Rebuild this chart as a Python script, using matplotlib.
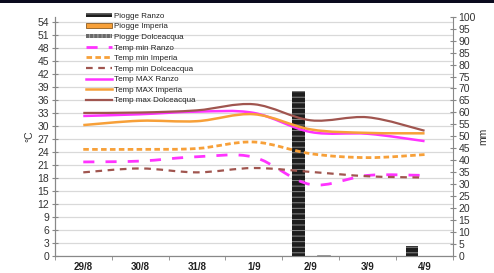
import matplotlib
matplotlib.use("Agg")
import matplotlib.pyplot as plt
from matplotlib.path import Path
from matplotlib.patches import PathPatch, Patch, Rectangle
from matplotlib.lines import Line2D
import numpy as np

plt.rcParams['font.family'] = ['Liberation Sans', 'DejaVu Sans']
plt.rcParams['hatch.linewidth'] = 0.7

days = ['29/8', '30/8', '31/8', '1/9', '2/9', '3/9', '4/9']

rain_ranzo = [0, 0, 0, 0, 69, 0, 4]
rain_imperia = [0, 0, 0, 0, 0, 0, 0]
rain_dolce = [0, 0, 0, 0, 0.5, 0, 0]

tmin_ranzo = [21.7, 21.9, 22.9, 22.8, 16.5, 18.6, 18.6]
tmin_imperia = [24.6, 24.6, 24.8, 26.3, 23.6, 22.7, 23.4]
tmin_dolce = [19.3, 20.2, 19.3, 20.3, 19.4, 18.4, 18.1]
tmax_ranzo = [32.3, 32.7, 33.3, 33.0, 28.6, 28.2, 26.5]
tmax_imperia = [30.2, 31.2, 31.1, 32.7, 29.2, 28.4, 28.3]
tmax_dolce = [33.0, 33.1, 33.6, 35.0, 31.3, 32.0, 28.9]

MAG = '#ff33ff'
ORA = '#f7a039'
BRO = '#a0554f'


def smooth_path(xs, ys):
    # Excel-like smoothed line: cubic Bezier segments through the points
    pts = np.column_stack([xs, ys]).astype(float)
    n = len(pts)
    verts = [pts[0]]
    codes = [Path.MOVETO]
    for i in range(n - 1):
        p0 = pts[i - 1] if i > 0 else pts[i]
        p1 = pts[i]
        p2 = pts[i + 1]
        p3 = pts[i + 2] if i + 2 < n else pts[i + 1]
        verts += [p1 + (p2 - p0) / 6, p2 - (p3 - p1) / 6, p2]
        codes += [Path.CURVE4] * 3
    return Path(verts, codes)


fig = plt.figure(figsize=(4.94, 2.73), dpi=100)
ax = fig.add_axes([0.111, 0.062, 0.806, 0.877])
ax2 = ax.twinx()

x = np.arange(len(days))
w = 0.22
ax2.bar(x - w, rain_ranzo, w, color='#1e1e1e', edgecolor='#8a8a8a', linewidth=0, hatch='---')
ax2.bar(x, rain_imperia, w, color=ORA, edgecolor='#8a5a20', linewidth=0.5)
ax2.bar(x + w, rain_dolce, w, color='#8c8c8c', edgecolor='#8c8c8c', linewidth=0.5)

series = [
    (tmin_ranzo, MAG, (0, (4, 4)), 2.0),
    (tmin_imperia, ORA, (0, (2, 1.2)), 2.0),
    (tmin_dolce, BRO, (0, (3, 2.5)), 1.6),
    (tmax_ranzo, MAG, '-', 1.8),
    (tmax_imperia, ORA, '-', 1.8),
    (tmax_dolce, BRO, '-', 1.6),
]
for ys, c, ls, lw in series:
    ax2.add_patch(PathPatch(smooth_path(x, np.array(ys) * 100 / 55.2),
                            facecolor='none', edgecolor=c, linestyle=ls,
                            linewidth=lw, capstyle='butt', zorder=3))

ax.set_xlim(-0.5, 6.5)
ax2.set_xlim(-0.5, 6.5)
ax.set_ylim(0, 55.2)
ax2.set_ylim(0, 100)
ax.set_yticks(np.arange(0, 55, 3))
ax2.set_yticks(np.arange(0, 101, 5))
ax.yaxis.grid(True, color='#d9d9d9', linewidth=0.9)
ax.set_axisbelow(True)

ax.set_xticks(x)
ax.set_xticklabels(days, fontsize=7, fontweight='bold', color='#222222')
ax.set_xticks(np.arange(-0.5, 7, 1), minor=True)
ax.tick_params(axis='x', which='major', length=0, pad=4)
ax.tick_params(axis='x', which='minor', length=3, direction='out', color='#888888')
ax.tick_params(axis='y', labelsize=7.5, length=4, direction='inout', color='#888888',
               labelcolor='#333333', pad=2)
ax2.tick_params(axis='y', labelsize=7.5, length=4, direction='inout', color='#888888',
                labelcolor='#333333', pad=2)

for a in (ax, ax2):
    a.spines['top'].set_visible(False)
    for s in ('left', 'right', 'bottom'):
        a.spines[s].set_color('#888888')
        a.spines[s].set_linewidth(0.8)
ax.spines['right'].set_visible(False)

ax.set_ylabel('°C', fontsize=7.5, color='#333333', labelpad=2)
ax2.set_ylabel('mm', fontsize=7.5, color='#333333', labelpad=2)

handles = [
    Patch(facecolor='#1e1e1e', edgecolor='#8a8a8a', linewidth=0, hatch='---'),
    Patch(facecolor=ORA, edgecolor='#8a5a20', linewidth=0.6),
    Patch(facecolor='#6a6a6a', edgecolor='#aaaaaa', linewidth=0, hatch='||||'),
    Line2D([], [], color=MAG, linestyle=(0, (4, 4)), linewidth=2),
    Line2D([], [], color=ORA, linestyle=(0, (2, 1.2)), linewidth=2),
    Line2D([], [], color=BRO, linestyle=(0, (3, 2.5)), linewidth=1.6),
    Line2D([], [], color=MAG, linewidth=1.8),
    Line2D([], [], color=ORA, linewidth=1.8),
    Line2D([], [], color=BRO, linewidth=1.6),
]
labels = ['Piogge Ranzo', 'Piogge Imperia', 'Piogge Dolceacqua',
          'Temp min Ranzo', 'Temp min Imperia', 'Temp min Dolceacqua',
          'Temp MAX Ranzo', 'Temp MAX Imperia', 'Temp max Dolceacqua']
leg = fig.legend(handles, labels, loc='upper left', bbox_to_anchor=(0.166, 0.968),
                 fontsize=5.8, frameon=False, handlelength=3.2, handleheight=0.5,
                 labelspacing=0.42, handletextpad=0.25, borderpad=0)
for t in leg.get_texts():
    t.set_color('#222222')

fig.add_artist(Rectangle((0, 0.99), 1, 0.01, transform=fig.transFigure,
                         color='#0b0b1e', linewidth=0))

fig.savefig('out.png', dpi=100)
